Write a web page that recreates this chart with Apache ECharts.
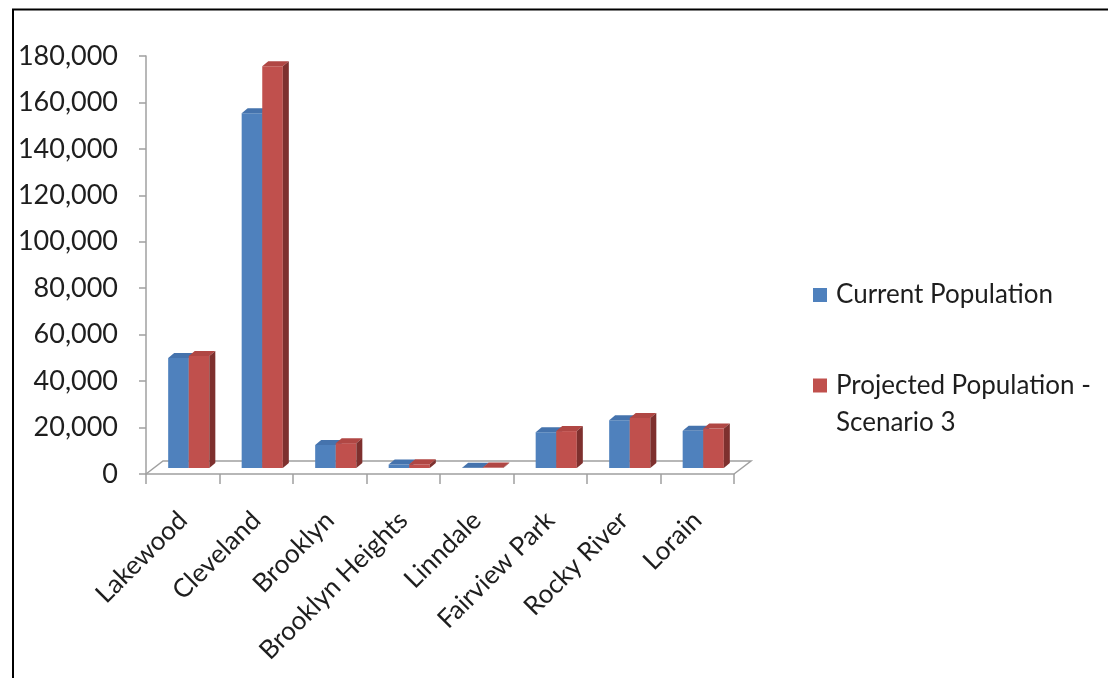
<!DOCTYPE html>
<html>
<head>
<meta charset="utf-8">
<script src="https://cdn.jsdelivr.net/npm/echarts@6/dist/echarts.min.js"></script>
<style>
  html, body { margin: 0; padding: 0; background: #fff; }
  #chart { width: 1108px; height: 678px; }
</style>
</head>
<body>
<div id="chart"></div>
<script>
const categories = ['Lakewood', 'Cleveland', 'Brooklyn', 'Brooklyn Heights', 'Linndale', 'Fairview Park', 'Rocky River', 'Lorain'];
const seriesNames = ['Current Population', 'Projected Population - Scenario 3'];
const currentPop = [47400, 152800, 9900, 1500, 150, 15400, 20600, 16000];
const projectedPop = [48200, 173000, 10700, 1600, 180, 15900, 21500, 17000];
const yMin = 0, yMax = 180000, yStep = 20000;

const FONT = 'Lato';
const TEXT_COLOR = '#1e1e1e';
const AXIS_COLOR = '#a0a0a0';
const faces = [
  { front: '#4F81BD', top: '#4573ad', side: '#385f8e' },
  { front: '#C0504D', top: '#b04744', side: '#7e302e' }
];

function barRenderer(sIdx) {
  return function (params, api) {
    const i = api.value(0), v = api.value(1);
    const base = api.coord([i, 0]);
    const top = api.coord([i, v]);
    const band = api.size([1, 0])[0];
    const bw = band * 0.28;
    const ox = 6, oy = -6;
    const dx = 6, dy = -5;
    const xl = base[0] - bw + sIdx * bw + ox;
    const xr = xl + bw;
    const yb = base[1] + oy;
    const yt = top[1] + oy;
    const c = faces[sIdx];
    return {
      type: 'group',
      children: [
        { type: 'rect', shape: { x: xl, y: yt, width: bw, height: yb - yt }, style: { fill: c.front } },
        { type: 'polygon', shape: { points: [[xl, yt], [xr, yt], [xr + dx, yt + dy], [xl + dx, yt + dy]] }, style: { fill: c.top } },
        { type: 'polygon', shape: { points: [[xr, yt], [xr + dx, yt + dy], [xr + dx, yb + dy], [xr, yb]] }, style: { fill: c.side } }
      ]
    };
  };
}

function floorRenderer(params, api) {
  const cs = params.coordSys;
  const x = cs.x, y = cs.y + cs.height, w = cs.width;
  const ddx = 17, ddy = -13;
  return {
    type: 'polyline',
    shape: { points: [[x, y], [x + ddx, y + ddy], [x + w + ddx, y + ddy], [x + w, y]] },
    style: { stroke: AXIS_COLOR, lineWidth: 1.5, fill: null }
  };
}

const chart = echarts.init(document.getElementById('chart'), null, { renderer: 'canvas' });
chart.setOption({
  animation: false,
  backgroundColor: '#fff',
  graphic: [{
    type: 'rect', left: 10.5, top: 7, z: 100,
    shape: { x: 0, y: 0, width: 1200, height: 800 },
    style: { fill: null, stroke: '#000', lineWidth: 2 }
  }],
  grid: { left: 146, top: 56, width: 588, height: 418, containLabel: false },
  legend: [
    {
      data: [seriesNames[0]],
      orient: 'vertical', left: 813, top: 277, padding: 0,
      icon: 'rect', itemWidth: 14, itemHeight: 14,
      textStyle: { fontFamily: FONT, fontSize: 26, color: TEXT_COLOR, lineHeight: 36, padding: [0, 0, 0, 4] }
    },
    {
      data: [seriesNames[1]],
      orient: 'vertical', left: 813, top: 330, padding: 0,
      icon: 'rect', itemWidth: 14, itemHeight: 14,
      formatter: function (n) { return ' \n' + n.replace(' - ', ' -\n'); },
      textStyle: { fontFamily: FONT, fontSize: 26, color: TEXT_COLOR, lineHeight: 37, padding: [0, 0, 0, 4] }
    }
  ],
  xAxis: {
    type: 'category',
    data: categories,
    boundaryGap: true,
    axisLine: { show: true, lineStyle: { color: AXIS_COLOR, width: 1.5 } },
    axisTick: { show: true, length: 10, lineStyle: { color: AXIS_COLOR, width: 1.5 } },
    axisLabel: {
      rotate: 45, interval: 0, margin: 42,
      fontFamily: FONT, fontSize: 26, color: TEXT_COLOR,
      padding: [38, 0, 0, 0]
    },
    splitLine: { show: false }
  },
  yAxis: {
    type: 'value',
    min: yMin, max: yMax, interval: yStep,
    axisLine: { show: true, lineStyle: { color: AXIS_COLOR, width: 1.5 } },
    axisTick: { show: true, inside: false, length: 7, lineStyle: { color: AXIS_COLOR, width: 1.5 } },
    axisLabel: {
      margin: 28, fontFamily: FONT, fontSize: 27, color: TEXT_COLOR,
      formatter: function (v) { return v.toLocaleString('en-US'); }
    },
    splitLine: { show: false }
  },
  series: [
    {
      type: 'custom', name: 'floor', renderItem: floorRenderer,
      data: [[0, 0]], silent: true, z: 1
    },
    {
      type: 'custom', name: seriesNames[0], renderItem: barRenderer(0),
      itemStyle: { color: faces[0].front },
      encode: { x: 0, y: 1 },
      data: currentPop.map(function (v, i) { return [i, v]; }), z: 2
    },
    {
      type: 'custom', name: seriesNames[1], renderItem: barRenderer(1),
      itemStyle: { color: faces[1].front },
      encode: { x: 0, y: 1 },
      data: projectedPop.map(function (v, i) { return [i, v]; }), z: 3
    }
  ]
});
</script>
</body>
</html>
